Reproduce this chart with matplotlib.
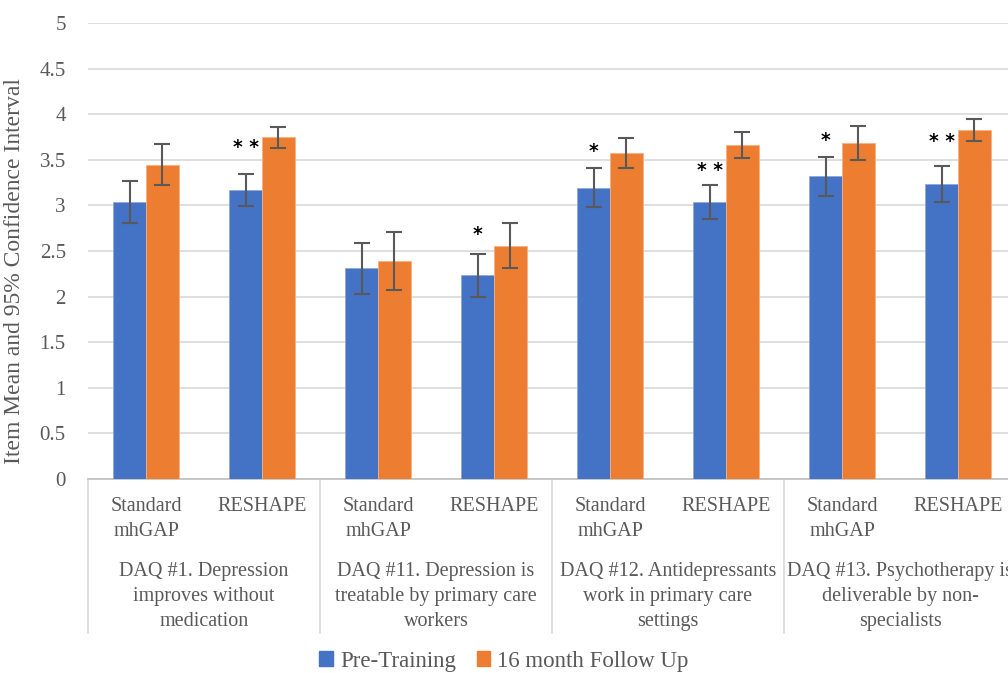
import numpy as np
import matplotlib
matplotlib.use("Agg")
import matplotlib.pyplot as plt
from matplotlib.transforms import blended_transform_factory
from matplotlib.patches import Patch

plt.rcParams["font.family"] = ["Liberation Serif", "DejaVu Serif"]

# data
groups = ["DAQ #1. Depression\nimproves without\nmedication",
          "DAQ #11. Depression is\ntreatable by primary care\nworkers",
          "DAQ #12. Antidepressants\nwork in primary care\nsettings",
          "DAQ #13. Psychotherapy is\ndeliverable by non-\nspecialists"]
subgroups = ["Standard\nmhGAP", "RESHAPE"]

pre_mean = [3.04, 3.17, 2.31, 2.24, 3.19, 3.04, 3.32, 3.23]
pre_low = [2.81, 2.99, 2.03, 2.00, 2.98, 2.85, 3.10, 3.04]
pre_high = [3.27, 3.34, 2.59, 2.47, 3.41, 3.22, 3.53, 3.43]

post_mean = [3.44, 3.75, 2.39, 2.55, 3.57, 3.66, 3.68, 3.83]
post_low = [3.22, 3.63, 2.07, 2.31, 3.41, 3.52, 3.50, 3.71]
post_high = [3.67, 3.86, 2.71, 2.81, 3.74, 3.81, 3.87, 3.95]

sig = ["", "* *", "", "*", "*", "* *", "*", "* *"]
sig_y = [3.0, 3.64, 2.5, 2.68, 3.59, 3.38, 3.71, 3.70]

blue = "#4472C4"
orange = "#ED7D31"
grey = "#595959"

fig = plt.figure(figsize=(10.08, 6.73), dpi=100)
ax = fig.add_axes([88 / 1008, 1 - 479 / 673, 928 / 1008, 456 / 673])

x = np.arange(len(pre_mean)) + 0.5
w = 0.284
pre_err = [np.array(pre_mean) - np.array(pre_low), np.array(pre_high) - np.array(pre_mean)]
post_err = [np.array(post_mean) - np.array(post_low), np.array(post_high) - np.array(post_mean)]

ekw = dict(ecolor=grey, elinewidth=1.5, capsize=6, capthick=1.5)
ax.bar(x - w / 2, pre_mean, w, color=blue, edgecolor="#8faadc", linewidth=0.6,
       yerr=pre_err, error_kw=ekw, zorder=3, label="Pre-Training")
ax.bar(x + w / 2, post_mean, w, color=orange, edgecolor="#f4b183", linewidth=0.6,
       yerr=post_err, error_kw=ekw, zorder=3, label="16 month Follow Up")

for xi, s, yi in zip(x, sig, sig_y):
    if s:
        ax.text(xi - w / 2, yi, s, ha="center", va="center", fontsize=13.5,
                fontweight="bold", family="DejaVu Sans", zorder=4)

ax.set_xlim(0, 8)
ax.set_ylim(0, 5)
ax.set_yticks(np.arange(0, 5.01, 0.5))
ax.set_yticklabels([f"{v:g}" for v in np.arange(0, 5.01, 0.5)])
ax.tick_params(axis="y", length=0, labelsize=15, labelcolor=grey, pad=16)
ax.tick_params(axis="x", length=0, labelbottom=False)
ax.set_xticks([])
ax.yaxis.grid(True, color="#d9d9d9", linewidth=1.2, zorder=0)
ax.set_axisbelow(True)
for side in ["top", "right", "left"]:
    ax.spines[side].set_visible(False)
ax.spines["bottom"].set_color("#bfbfbf")
ax.spines["bottom"].set_linewidth(1.2)
ax.set_ylabel("Item Mean and 95% Confidence Interval", fontsize=17, color=grey)
ax.yaxis.set_label_coords(-0.068, 0.456)

tr = blended_transform_factory(ax.transData, fig.transFigure)
for i, xi in enumerate(x):
    ax.text(xi, 1 - 497 / 673, subgroups[i % 2], transform=tr, ha="center", va="top",
            fontsize=14.5, color=grey, linespacing=1.42)
for g in range(len(groups)):
    ax.text(2 * g + 1, 1 - 562 / 673, groups[g], transform=tr, ha="center", va="top",
            fontsize=14.5, color=grey, linespacing=1.42)
for b in range(0, 9, 2):
    ax.plot([b, b], [1 - 479 / 673, 1 - 633 / 673], transform=tr, color="#d9d9d9",
            linewidth=1.2, clip_on=False)

handles = [Patch(color=blue, label="Pre-Training"), Patch(color=orange, label="16 month Follow Up")]
fig.legend(handles=handles, loc="center", bbox_to_anchor=(0.5, 1 - 661 / 673), ncol=2,
           frameon=False, fontsize=16.5, handlelength=0.6, handleheight=0.6,
           handletextpad=0.3, columnspacing=0.9, labelcolor=grey)

fig.savefig("out.png", dpi=100)
